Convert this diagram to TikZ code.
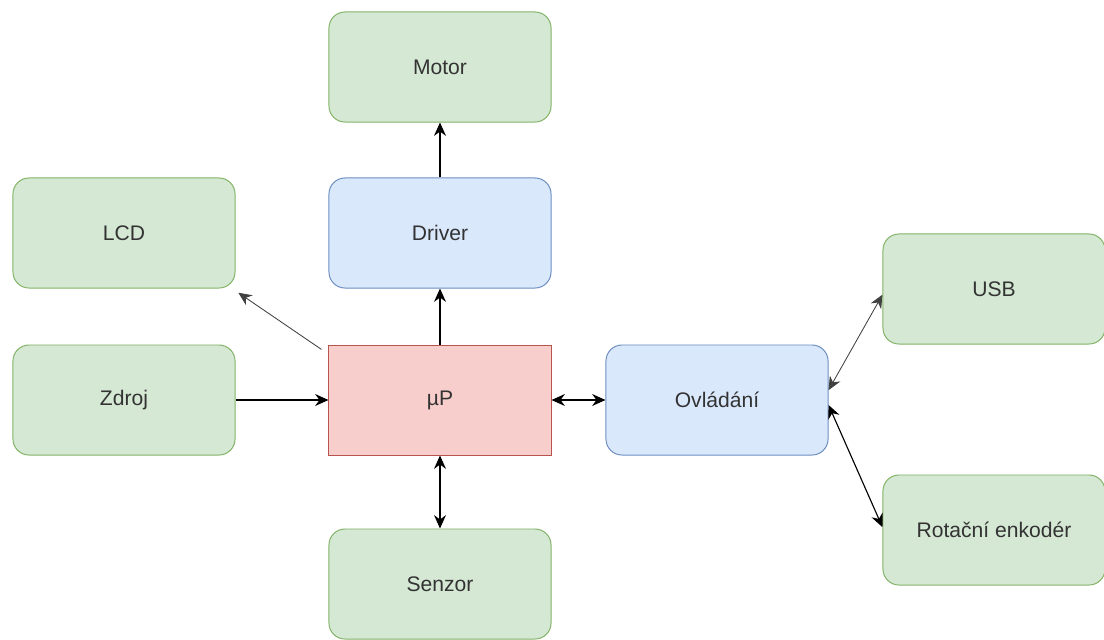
\documentclass[tikz,border=0pt]{standalone}
\usepackage{fontspec}
\setmainfont{Liberation Sans}
\usetikzlibrary{arrows.meta, positioning}
\definecolor{gfill}{HTML}{D5E8D4}
\definecolor{gline}{HTML}{82B366}
\definecolor{bfill}{HTML}{DAE8FC}
\definecolor{bline}{HTML}{6C8EBF}
\definecolor{rfill}{HTML}{F8CECC}
\definecolor{rline}{HTML}{B85450}
\definecolor{txt}{HTML}{333333}

\begin{document}
\begin{tikzpicture}[x=0.025cm, y=-0.025cm, >={Stealth[length=9.5pt,width=8.5pt]},
  every node/.style={font=\fontsize{15}{18}\selectfont, text=txt},
  blok/.style={draw, line width=0.7pt, rounded corners=0.4cm, minimum width=5.55cm, minimum height=2.75cm},
  zelena/.style={blok, fill=gfill, draw=gline},
  modra/.style={blok, fill=bfill, draw=bline},
  spoj/.style={thick, black},
  tenky/.style={semithick, black!75}]
  \useasboundingbox (0,0) rectangle (1104,639);

  % Blocks
  \node[zelena] (motor)    at (440,67)  {Motor};
  \node[modra]  (driver)   at (440,233) {Driver};
  \node[zelena] (lcd)      at (124,233) {LCD};
  \node[zelena] (zdroj)    at (124,400) {Zdroj};
  \node[blok, fill=rfill, draw=rline, rounded corners=0pt] (mcu) at (440,400) {µP};
  \node[modra]  (ovladani) at (717,400) {Ovládání};
  \node[zelena] (senzor)   at (440,584) {Senzor};
  \node[zelena] (usb)      at (994,289) {USB};
  \node[zelena] (enkoder)  at (994,530) {Rotační enkodér};

  % Connections
  \draw[spoj, ->] (zdroj) -- (mcu);
  \draw[spoj, ->] (mcu) -- (driver);
  \draw[spoj, ->] (driver) -- (motor);
  \draw[spoj, <->] (mcu) -- (senzor);
  \draw[spoj, <->] (mcu) -- (ovladani);
  \draw[tenky, ->] ([shift={(-5pt,-3.5pt)}]mcu.north west) -- ([shift={(2pt,-3pt)}]lcd.south east);
  \draw[tenky, <->] ([yshift=7pt]ovladani.east) -- ([yshift=-4pt]usb.west);
  \draw[spoj, <->] ([yshift=-3.5pt]ovladani.east) -- ([yshift=2pt]enkoder.west);
\end{tikzpicture}
\end{document}
